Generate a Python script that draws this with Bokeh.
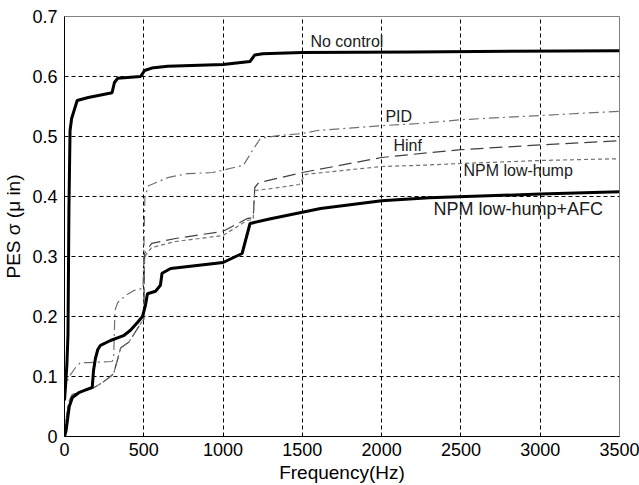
from bokeh.plotting import figure
from bokeh.models import Range1d, FixedTicker, Label
from bokeh.embed import file_html
from bokeh.resources import INLINE

# ---- data ----
nc_f = [0, 8, 15, 22, 28, 35, 45, 80, 150, 300, 315, 335, 480, 505, 550, 650, 1000, 1170, 1200, 1250, 1500, 2200, 3500]
nc_v = [0.06, 0.09, 0.12, 0.17, 0.38, 0.51, 0.53, 0.56, 0.565, 0.573, 0.59, 0.597, 0.60, 0.61, 0.614, 0.617, 0.62, 0.625, 0.636, 0.638, 0.64, 0.641, 0.643]

afc_f = [0, 10, 30, 50, 90, 175, 183, 195, 210, 227, 290, 372, 416, 460, 492, 510, 523, 574, 605, 615, 670, 1000, 1120, 1170, 1300, 1615, 2000, 2300, 3000, 3500]
afc_v = [0.0, 0.01, 0.05, 0.065, 0.073, 0.082, 0.11, 0.13, 0.145, 0.152, 0.16, 0.168, 0.177, 0.19, 0.2, 0.218, 0.238, 0.242, 0.252, 0.272, 0.28, 0.29, 0.305, 0.355, 0.363, 0.38, 0.393, 0.398, 0.404, 0.408]

pid_f = [0, 15, 30, 70, 100, 150, 300, 310, 318, 335, 385, 435, 495, 500, 507, 530, 657, 775, 933, 985, 1128, 1193, 1236, 1362, 1500, 1595, 2000, 2258, 2500, 3000, 3500]
pid_v = [0.07, 0.09, 0.1, 0.115, 0.123, 0.123, 0.125, 0.13, 0.21, 0.223, 0.235, 0.243, 0.247, 0.30, 0.40, 0.418, 0.432, 0.438, 0.44, 0.443, 0.452, 0.48, 0.497, 0.502, 0.505, 0.51, 0.518, 0.522, 0.528, 0.535, 0.542]

hinf_f = [0, 10, 30, 50, 175, 240, 290, 310, 355, 405, 480, 500, 505, 550, 700, 1000, 1150, 1190, 1200, 1225, 1500, 2000, 2300, 2500, 3000, 3500]
hinf_v = [0.0, 0.03, 0.06, 0.07, 0.08, 0.09, 0.1, 0.105, 0.148, 0.157, 0.188, 0.195, 0.305, 0.322, 0.33, 0.342, 0.363, 0.365, 0.415, 0.423, 0.44, 0.465, 0.473, 0.478, 0.486, 0.493]

npm_f = [0, 10, 30, 50, 175, 240, 290, 310, 355, 405, 480, 500, 505, 550, 700, 1000, 1150, 1190, 1200, 1300, 1480, 1520, 2000, 2250, 2500, 3000, 3500]
npm_v = [0.0, 0.03, 0.06, 0.07, 0.08, 0.09, 0.1, 0.105, 0.148, 0.157, 0.188, 0.195, 0.30, 0.315, 0.325, 0.335, 0.36, 0.362, 0.41, 0.413, 0.42, 0.437, 0.45, 0.452, 0.455, 0.46, 0.463]

x_ticks = [0, 500, 1000, 1500, 2000, 2500, 3000, 3500]
y_ticks = [0, 0.1, 0.2, 0.3, 0.4, 0.5, 0.6, 0.7]
y_tick_labels = ["0", "0.1", "0.2", "0.3", "0.4", "0.5", "0.6", "0.7"]

series_labels = ["No control", "PID", "Hinf", "NPM low-hump", "NPM low-hump+AFC"]

FONT = "Liberation Sans"

p = figure(width=639, height=485, output_backend="svg", toolbar_location=None,
           x_range=Range1d(0, 3500), y_range=Range1d(0, 0.7),
           min_border_left=64, min_border_right=20, min_border_top=16, min_border_bottom=49)
p.background_fill_color = "white"
p.border_fill_color = "white"
p.outline_line_color = "#808080"
p.outline_line_width = 1

# grid
for g in (p.xgrid, p.ygrid):
    g.grid_line_color = "black"
    g.grid_line_dash = "4 3"
    g.grid_line_width = 1
p.xgrid.ticker = FixedTicker(ticks=x_ticks)
p.ygrid.ticker = FixedTicker(ticks=y_ticks)

# axes
p.xaxis.ticker = FixedTicker(ticks=x_ticks)
p.yaxis.ticker = FixedTicker(ticks=y_ticks)
p.yaxis.major_label_overrides = {t: l for t, l in zip(y_ticks, y_tick_labels)}
for ax in (p.xaxis, p.yaxis):
    ax.axis_line_color = "black"
    ax.axis_line_width = 1
    ax.major_tick_in = 0
    ax.major_tick_out = 0
    ax.minor_tick_in = 0
    ax.minor_tick_out = 0
    ax.major_label_text_font = FONT
    ax.major_label_text_font_size = "18px"
    ax.major_label_text_color = "black"
    ax.axis_label_text_font = FONT
    ax.axis_label_text_font_style = "normal"
    ax.axis_label_text_color = "black"
    ax.axis_label_text_font_size = "19px"
p.xaxis.major_label_standoff = 6
p.yaxis.major_label_standoff = 7
p.xaxis.axis_label = "Frequency(Hz)"
p.yaxis.axis_label = "PES σ (μ in)"
p.xaxis.axis_label_standoff = 3
p.yaxis.axis_label_standoff = 5

# lines
p.line(pid_f, pid_v, line_color="#707070", line_width=1.2, line_dash="10 4 2 4")
p.line(hinf_f, hinf_v, line_color="#404040", line_width=1.2, line_dash="13 6")
p.line(npm_f, npm_v, line_color="#707070", line_width=1.2, line_dash="4 3")
p.line(afc_f, afc_v, line_color="black", line_width=3)
p.line(nc_f, nc_v, line_color="black", line_width=3)

# in-plot labels
label_pos = [(1551, 0.647), (2024, 0.522), (2074, 0.473), (2516, 0.432), (2327, 0.368)]
label_size = ["16px", "16px", "16px", "16px", "18px"]
for txt, (lx, ly), fs in zip(series_labels, label_pos, label_size):
    p.add_layout(Label(x=lx, y=ly, y_offset=7, text=txt, text_font=FONT, text_font_size=fs,
                       text_color="#202020", text_baseline="alphabetic", text_align="left"))

open("out.html", "w").write(file_html(p, INLINE))
